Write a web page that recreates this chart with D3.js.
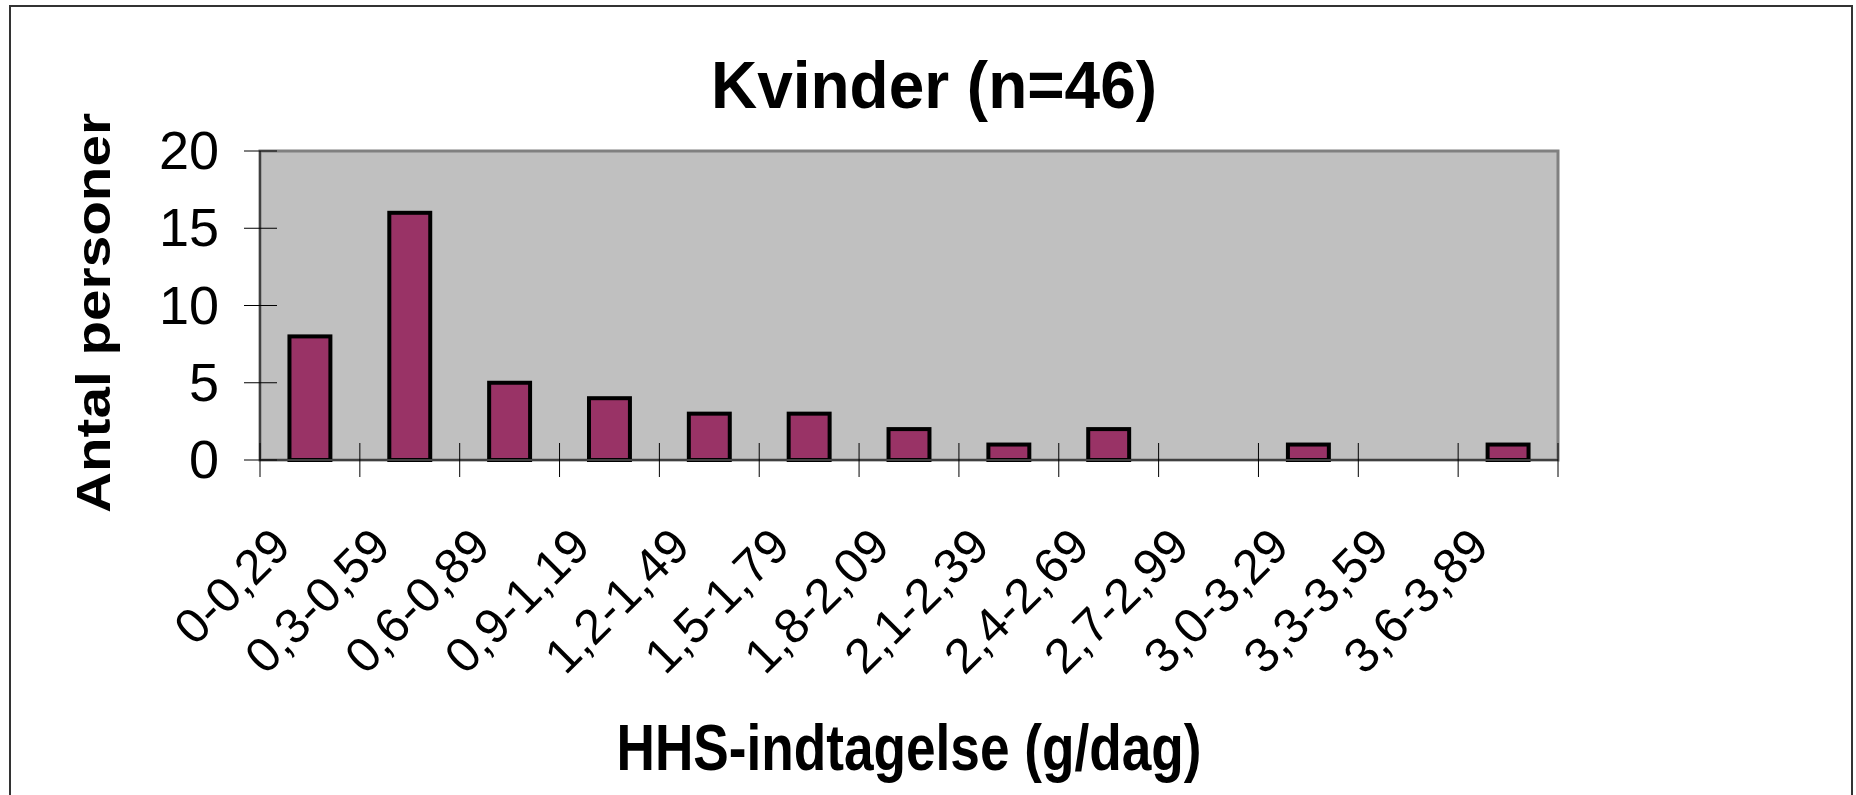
<!DOCTYPE html>
<html>
<head>
<meta charset="utf-8">
<script src="https://cdn.jsdelivr.net/npm/d3@7"></script>
<style>
    body { margin: 0; background: #fff; }
    text { font-family: "Liberation Sans", Arial, sans-serif; }
</style>
</head>
<body>
<div id="chart"></div>
<script>
// data
const categories = ["0-0,29", "0,3-0,59", "0,6-0,89", "0,9-1,19", "1,2-1,49", "1,5-1,79", "1,8-2,09",
    "2,1-2,39", "2,4-2,69", "2,7-2,99", "3,0-3,29", "3,3-3,59", "3,6-3,89"];
const counts = [8, 16, 5, 4, 3, 3, 2, 1, 2, 0, 1, 0, 1];
const yTicks = [0, 5, 10, 15, 20];
const title = "Kvinder (n=46)";
const xTitle = "HHS-indtagelse (g/dag)";
const yTitle = "Antal personer";

const width = 1856;
const height = 795;
const plot = { left: 260, right: 1558, top: 151, bottom: 460 };

const svg = d3.select("#chart")
    .append("svg")
    .attr("width", width)
    .attr("height", height);

// chart frame
svg.append("rect")
    .attr("x", 10)
    .attr("y", 6)
    .attr("width", 1842)
    .attr("height", 800)
    .attr("fill", "#fff")
    .attr("stroke", "#333")
    .attr("stroke-width", 2);

const x = d3.scaleBand()
    .domain(categories)
    .range([plot.left, plot.right])
    .paddingInner(0.59)
    .paddingOuter(0.295);

const y = d3.scaleLinear()
    .domain([0, 20])
    .range([plot.bottom, plot.top]);

// plot area
svg.append("rect")
    .attr("x", plot.left)
    .attr("y", plot.top)
    .attr("width", plot.right - plot.left)
    .attr("height", plot.bottom - plot.top)
    .attr("fill", "#c0c0c0")
    .attr("stroke", "#808080")
    .attr("stroke-width", 3);

// bars
svg.selectAll(".bar")
    .data(categories)
    .join("rect")
    .attr("class", "bar")
    .attr("x", d => x(d))
    .attr("y", (d, i) => y(counts[i]))
    .attr("width", x.bandwidth())
    .attr("height", (d, i) => y(0) - y(counts[i]))
    .attr("fill", "#993366")
    .attr("stroke", "#000")
    .attr("stroke-width", 4)
    .style("display", (d, i) => counts[i] > 0 ? null : "none");

// axis lines
svg.append("line")
    .attr("x1", plot.left).attr("x2", plot.left)
    .attr("y1", plot.top).attr("y2", plot.bottom)
    .attr("stroke", "#404040").attr("stroke-width", 2);
svg.append("line")
    .attr("x1", plot.left).attr("x2", plot.right)
    .attr("y1", plot.bottom).attr("y2", plot.bottom)
    .attr("stroke", "#404040").attr("stroke-width", 2);

// y ticks (crossing the axis)
const yAxis = svg.append("g");
yAxis.selectAll("line")
    .data(yTicks)
    .join("line")
    .attr("x1", plot.left - 16).attr("x2", plot.left + 17)
    .attr("y1", d => y(d)).attr("y2", d => y(d))
    .attr("stroke", "#000").attr("stroke-width", 1);
yAxis.selectAll("text")
    .data(yTicks)
    .join("text")
    .attr("x", 219)
    .attr("y", d => y(d) + 18)
    .attr("text-anchor", "end")
    .attr("font-size", 54)
    .attr("fill", "#000")
    .text(d => d);

// x ticks at band boundaries
const step = x.step();
const boundaries = d3.range(categories.length + 1).map(i => plot.left + i * step);
svg.append("g").selectAll("line")
    .data(boundaries)
    .join("line")
    .attr("x1", d => d).attr("x2", d => d)
    .attr("y1", plot.bottom - 17).attr("y2", plot.bottom + 17)
    .attr("stroke", "#000").attr("stroke-width", 1);

// x labels, rotated
svg.append("g").selectAll("text")
    .data(categories)
    .join("text")
    .attr("transform", d => `translate(${x(d) + x.bandwidth() / 2 - 17},549) rotate(-45)`)
    .attr("text-anchor", "end")
    .attr("font-size", 49)
    .attr("fill", "#000")
    .text(d => d);

// titles
svg.append("text")
    .attr("x", 934)
    .attr("y", 108)
    .attr("text-anchor", "middle")
    .attr("font-size", 66)
    .attr("font-weight", "bold")
    .attr("textLength", 446)
    .attr("lengthAdjust", "spacingAndGlyphs")
    .text(title);

svg.append("text")
    .attr("x", (plot.left + plot.right) / 2)
    .attr("y", 770)
    .attr("text-anchor", "middle")
    .attr("font-size", 65)
    .attr("font-weight", "bold")
    .attr("textLength", 585)
    .attr("lengthAdjust", "spacingAndGlyphs")
    .text(xTitle);

svg.append("text")
    .attr("transform", "translate(110,313) rotate(-90)")
    .attr("text-anchor", "middle")
    .attr("font-size", 49)
    .attr("font-weight", "bold")
    .attr("textLength", 400)
    .attr("lengthAdjust", "spacingAndGlyphs")
    .text(yTitle);
</script>
</body>
</html>
